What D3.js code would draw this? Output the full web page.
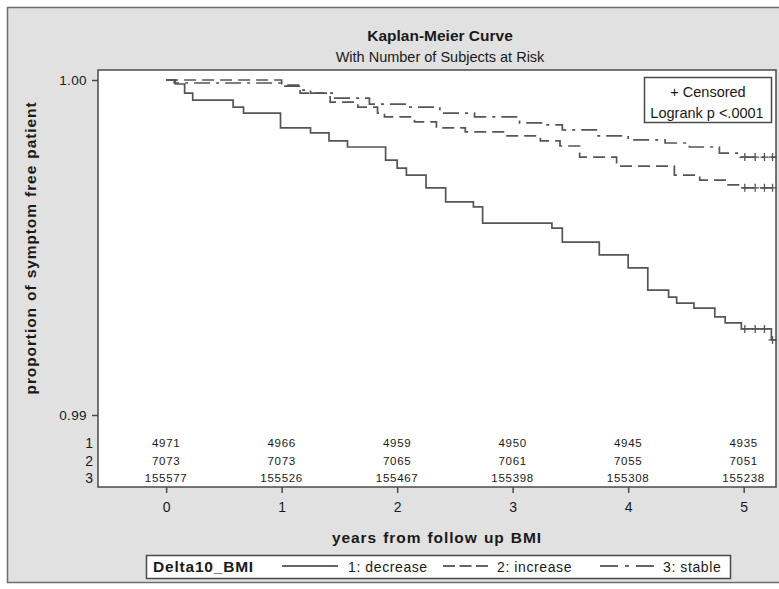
<!DOCTYPE html>
<html>
<head>
<meta charset="utf-8">
<script src="https://cdn.jsdelivr.net/npm/d3@7/dist/d3.min.js"></script>
<style>
  html, body { margin: 0; padding: 0; background: #ffffff; }
  svg { display: block; }
  text { font-family: "Liberation Sans", Arial, sans-serif; fill: #1a1a1a; }
</style>
</head>
<body>
<script>
// Kaplan-Meier estimates per group: [years, survival proportion]
const decreaseSteps = [
  [0, 1], [0.08, 0.99988], [0.16, 0.99961], [0.23, 0.99940], [0.58, 0.99919],
  [0.67, 0.99901], [0.99, 0.99857], [1.25, 0.99842], [1.41, 0.99818], [1.57, 0.99800],
  [1.90, 0.99761], [2.00, 0.99737], [2.08, 0.99716], [2.25, 0.99678], [2.42, 0.99636],
  [2.66, 0.99621], [2.74, 0.99573], [3.34, 0.99558], [3.43, 0.99516], [3.75, 0.99478],
  [4.00, 0.99439], [4.17, 0.99373], [4.35, 0.99352], [4.42, 0.99334], [4.57, 0.99319],
  [4.75, 0.99293], [4.84, 0.99275], [4.98, 0.99257], [5.24, 0.99224]
];
const increaseSteps = [
  [0, 1], [1.00, 0.99985], [1.16, 0.99961], [1.42, 0.99934], [1.66, 0.99919],
  [1.83, 0.99901], [1.89, 0.99890], [2.15, 0.99875], [2.34, 0.99857], [2.59, 0.99845],
  [2.92, 0.99833], [3.24, 0.99818], [3.41, 0.99803], [3.58, 0.99770], [3.90, 0.99743],
  [4.40, 0.99716], [4.62, 0.99701], [4.84, 0.99687], [4.97, 0.99678]
];
const stableSteps = [
  [0, 1], [0.07, 0.99991], [1.00, 0.99982], [1.16, 0.99970], [1.25, 0.99961],
  [1.46, 0.99946], [1.76, 0.99928], [2.11, 0.99919], [2.37, 0.99901], [2.67, 0.99890],
  [3.06, 0.99872], [3.28, 0.99866], [3.43, 0.99851], [3.74, 0.99833], [4.00, 0.99821],
  [4.32, 0.99812], [4.53, 0.99800], [4.79, 0.99782], [4.97, 0.99770]
];
// Censoring times (years)
const decreaseCensored = [5.01, 5.10, 5.18, 5.25];
const increaseCensored = [5.01, 5.10, 5.18, 5.25];
const stableCensored = [5.01, 5.10, 5.18, 5.25];
const followUpEnd = 5.28;

// Number of subjects at risk
const riskYears = [0, 1, 2, 3, 4, 5];
const atRiskDecrease = [4971, 4966, 4959, 4950, 4945, 4935];
const atRiskIncrease = [7073, 7073, 7065, 7061, 7055, 7051];
const atRiskStable = [155577, 155526, 155467, 155398, 155308, 155238];

const groupLabels = ["1: decrease", "2: increase", "3: stable"];
const riskRowLabels = ["1", "2", "3"];
const xTicks = [0, 1, 2, 3, 4, 5];
const yTicks = [0.99, 1.00];

const W = 779, H = 589;
const frame = { left: 98, top: 70, right: 776, bottom: 487 };
const lineColor = "#555555";
const frameColor = "#4a4a4a";

const svg = d3.select("body").append("svg")
  .attr("width", W).attr("height", H);

// page background and outer border
svg.append("rect").attr("x", 0).attr("y", 0).attr("width", W).attr("height", H).attr("fill", "#ffffff");
svg.append("rect").attr("x", 7.5).attr("y", 7.5).attr("width", 800).attr("height", 575)
  .attr("fill", "#e1e1e1").attr("stroke", "#6e6e6e").attr("stroke-width", 1.5);

const x = d3.scaleLinear().domain([-0.59, 5.28]).range([frame.left, frame.right]);
const y = d3.scaleLinear().domain([0.99, 1.00]).range([415, 80]);

// plot area
svg.append("rect")
  .attr("x", frame.left).attr("y", frame.top)
  .attr("width", frame.right - frame.left).attr("height", frame.bottom - frame.top)
  .attr("fill", "#ffffff");

// titles
svg.append("text").attr("x", 440).attr("y", 41).attr("text-anchor", "middle")
  .style("font-size", "15.5px").style("font-weight", "bold").text("Kaplan-Meier Curve");
svg.append("text").attr("x", 440).attr("y", 62).attr("text-anchor", "middle")
  .style("font-size", "14.5px").text("With Number of Subjects at Risk");

// survival curves
function withEnd(steps) {
  const last = steps[steps.length - 1];
  return steps.concat([[followUpEnd, last[1]]]);
}
function survivalAt(steps, t) {
  let s = steps[0][1];
  for (const [tt, v] of steps) { if (tt <= t) s = v; }
  return s;
}
const line = d3.line()
  .x(d => x(d[0])).y(d => y(d[1]))
  .curve(d3.curveStepAfter);

const series = [
  { steps: decreaseSteps, censored: decreaseCensored, dash: null },
  { steps: increaseSteps, censored: increaseCensored, dash: "12,6" },
  { steps: stableSteps, censored: stableCensored, dash: "16,6,3,6" }
];

const curves = svg.append("g");
series.forEach(s => {
  curves.append("path")
    .datum(withEnd(s.steps))
    .attr("d", line)
    .attr("fill", "none")
    .attr("stroke", lineColor)
    .attr("stroke-width", 1.7)
    .attr("stroke-dasharray", s.dash);
  curves.selectAll(null)
    .data(s.censored)
    .enter().append("path")
    .attr("d", t => {
      const cx = x(t), cy = y(survivalAt(s.steps, t));
      return `M${cx - 4},${cy}H${cx + 4}M${cx},${cy - 4}V${cy + 4}`;
    })
    .attr("stroke", lineColor)
    .attr("stroke-width", 1.3)
    .attr("fill", "none");
});

// numbers at risk inside the plot
const riskRows = [atRiskDecrease, atRiskIncrease, atRiskStable];
const riskRowY = [443, 461, 478];
riskRows.forEach((row, i) => {
  svg.append("g").selectAll("text")
    .data(row)
    .enter().append("text")
    .attr("x", (d, j) => x(riskYears[j]))
    .attr("y", riskRowY[i])
    .attr("dy", "0.35em")
    .attr("text-anchor", "middle")
    .style("font-size", "11.5px")
    .style("letter-spacing", "0.7px")
    .text(d => d);
  svg.append("text")
    .attr("x", 93).attr("y", riskRowY[i]).attr("dy", "0.35em")
    .attr("text-anchor", "end")
    .style("font-size", "14px")
    .text(riskRowLabels[i]);
});

// frame
svg.append("rect")
  .attr("x", frame.left).attr("y", frame.top)
  .attr("width", frame.right - frame.left).attr("height", frame.bottom - frame.top)
  .attr("fill", "none").attr("stroke", frameColor).attr("stroke-width", 1.5);

// axes
const xAxis = svg.append("g")
  .attr("transform", `translate(0,${frame.bottom})`)
  .call(d3.axisBottom(x).tickValues(xTicks).tickSize(6).tickPadding(9).tickFormat(d3.format("d")));
xAxis.select(".domain").remove();
xAxis.selectAll(".tick line").attr("stroke", frameColor).attr("stroke-width", 1.5);
xAxis.selectAll(".tick text").style("font-size", "14px").attr("fill", "#1a1a1a")
  .style("font-family", "'Liberation Sans', Arial, sans-serif");

const yAxis = svg.append("g")
  .attr("transform", `translate(${frame.left},0)`)
  .call(d3.axisLeft(y).tickValues(yTicks).tickSize(6).tickPadding(5).tickFormat(d3.format(".2f")));
yAxis.select(".domain").remove();
yAxis.selectAll(".tick line").attr("stroke", frameColor).attr("stroke-width", 1.5);
yAxis.selectAll(".tick text").style("font-size", "13.5px").attr("fill", "#1a1a1a")
  .style("letter-spacing", "0.4px")
  .style("font-family", "'Liberation Sans', Arial, sans-serif");

// axis titles
svg.append("text")
  .attr("x", 437).attr("y", 543).attr("text-anchor", "middle")
  .style("font-size", "15.5px").style("font-weight", "bold")
  .style("letter-spacing", "0.9px").style("word-spacing", "1px")
  .text("years from follow up BMI");
svg.append("text")
  .attr("transform", "translate(36,248) rotate(-90)")
  .attr("text-anchor", "middle")
  .style("font-size", "15.5px").style("font-weight", "bold")
  .style("letter-spacing", "0.9px").style("word-spacing", "1px")
  .text("proportion of symptom free patient");

// censor / logrank inset
const inset = svg.append("g");
inset.append("rect").attr("x", 644.5).attr("y", 77.5).attr("width", 127).attr("height", 45)
  .attr("fill", "#ffffff").attr("stroke", frameColor).attr("stroke-width", 1.5);
inset.append("text").attr("x", 708).attr("y", 92).attr("dy", "0.35em").attr("text-anchor", "middle")
  .style("font-size", "14.5px").text("+ Censored");
inset.append("text").attr("x", 707).attr("y", 113).attr("dy", "0.35em").attr("text-anchor", "middle")
  .style("font-size", "14.5px").text("Logrank p <.0001");

// legend
const legend = svg.append("g");
legend.append("rect").attr("x", 146.5).attr("y", 555.5).attr("width", 584).attr("height", 23)
  .attr("fill", "#ffffff").attr("stroke", frameColor).attr("stroke-width", 1.5);
legend.append("text").attr("x", 153).attr("y", 567).attr("dy", "0.35em")
  .style("font-size", "15.5px").style("font-weight", "bold").style("letter-spacing", "0.8px")
  .text("Delta10_BMI");
const legendItems = [
  { x1: 282, x2: 338, tx: 348, dash: null },
  { x1: 443, x2: 488, tx: 497, dash: "12,4.5" },
  { x1: 600, x2: 655, tx: 663, dash: "18,7,4,7" }
];
legendItems.forEach((it, i) => {
  legend.append("line").attr("x1", it.x1).attr("x2", it.x2).attr("y1", 566).attr("y2", 566)
    .attr("stroke", "#333").attr("stroke-width", 1.3).attr("stroke-dasharray", it.dash);
  legend.append("text").attr("x", it.tx).attr("y", 567).attr("dy", "0.35em")
    .style("font-size", "14px").style("letter-spacing", "0.6px")
    .text(groupLabels[i]);
});
</script>
</body>
</html>
